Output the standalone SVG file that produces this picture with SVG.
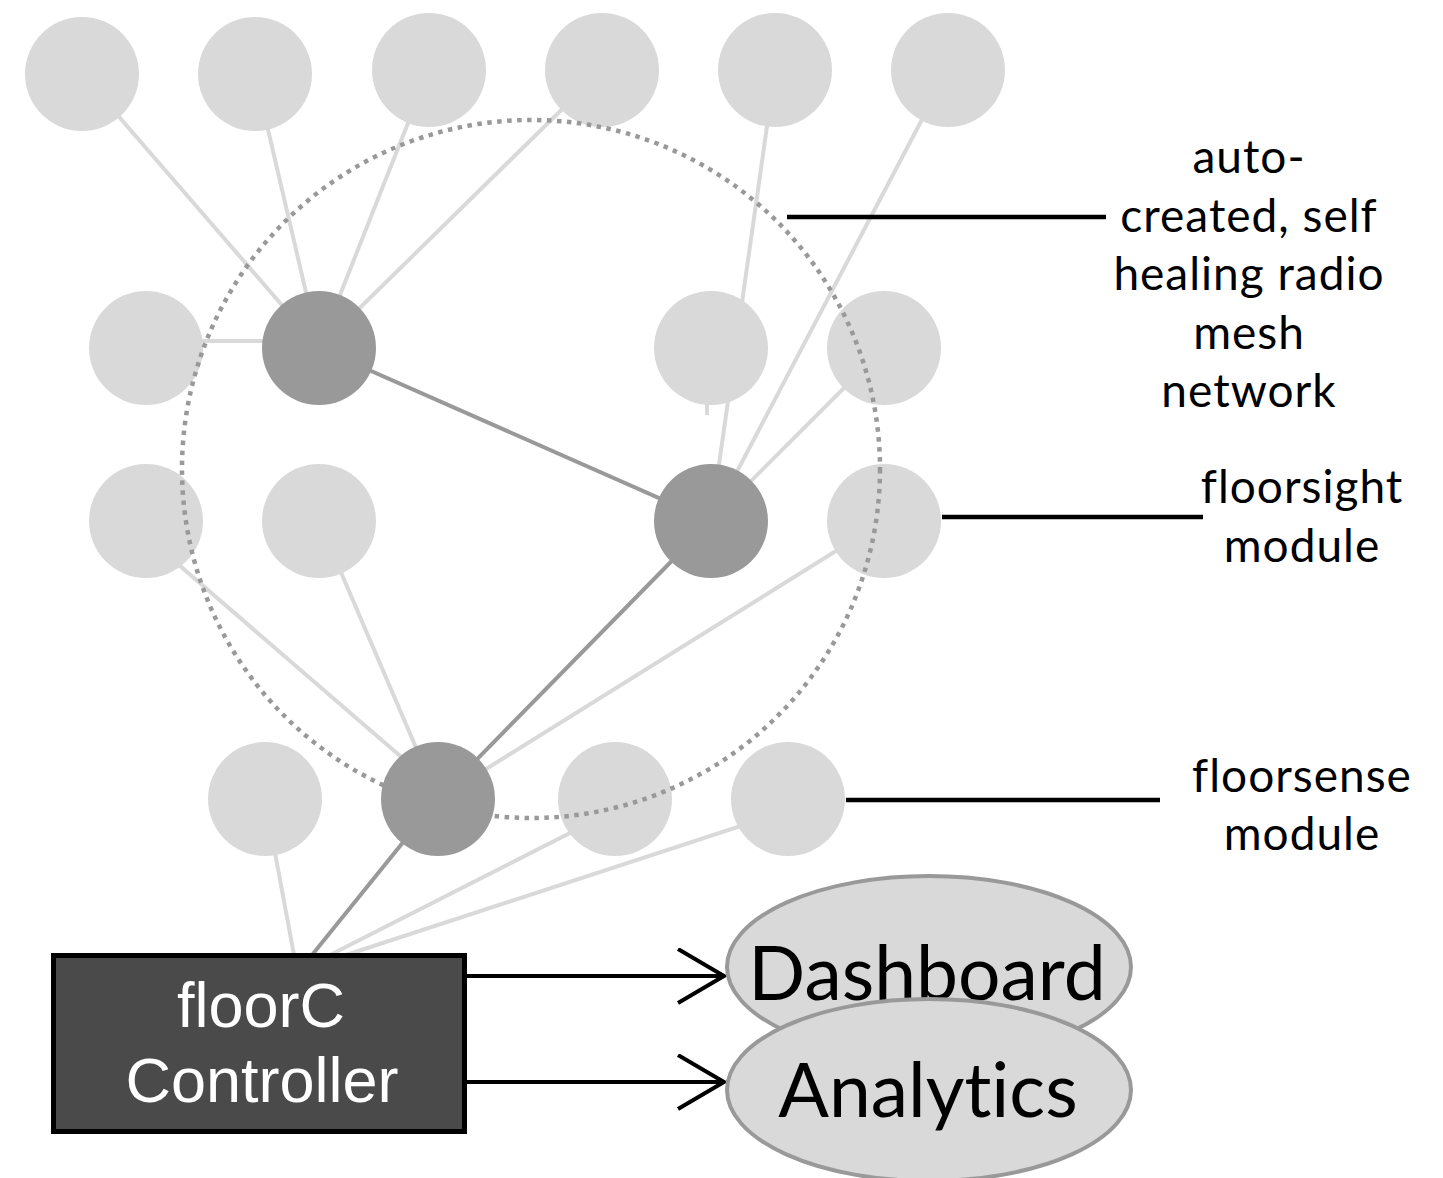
<svg xmlns="http://www.w3.org/2000/svg" width="1443" height="1178" viewBox="0 0 1443 1178">
<style>
.n{fill:#d9d9d9}
.d{fill:#999999}
.ll{stroke:#d9d9d9;stroke-width:4;fill:none}
.dl{stroke:#999999;stroke-width:4;fill:none}
.lead{stroke:#000;stroke-width:4.5;fill:none}
.arr{stroke:#000;stroke-width:4;fill:none}
text{font-variant-ligatures:none}
.lbl{font-family:Lato,"Liberation Sans",sans-serif;font-size:46px;letter-spacing:1px;fill:#000;text-anchor:middle}
.big{font-family:Lato,"Liberation Sans",sans-serif;font-size:75px;fill:#000;text-anchor:middle}
.ctl{font-family:"Liberation Sans",Arial,sans-serif;font-size:63px;fill:#fff;text-anchor:middle}
</style>
<defs>
<marker id="open" markerWidth="60" markerHeight="60" refX="48" refY="28" orient="auto" markerUnits="userSpaceOnUse">
<polyline points="2,1 48,28 2,55" fill="none" stroke="#000" stroke-width="4"/>
</marker>
</defs>
<rect width="1443" height="1178" fill="#fff"/>
<g id="connectors">
<line class="ll" x1="82" y1="74" x2="319" y2="348"/>
<line class="ll" x1="255" y1="74" x2="319" y2="348"/>
<line class="ll" x1="429" y1="70" x2="319" y2="348"/>
<line class="ll" x1="602" y1="70" x2="319" y2="348"/>
<line class="ll" x1="146" y1="341" x2="319" y2="341"/>
<line class="ll" x1="775" y1="70" x2="711" y2="521"/>
<line class="ll" x1="948" y1="70" x2="711" y2="521"/>
<line class="ll" x1="884" y1="348" x2="711" y2="521"/>
<line class="ll" x1="707" y1="400" x2="707" y2="415"/>
<line class="ll" x1="128" y1="521" x2="450" y2="799"/>
<line class="ll" x1="319" y1="521" x2="438" y2="799"/>
<line class="ll" x1="884" y1="521" x2="438" y2="799"/>
<line class="ll" x1="265" y1="799" x2="294" y2="955"/>
<line class="ll" x1="637" y1="799" x2="330" y2="955"/>
<line class="ll" x1="805" y1="805" x2="346" y2="955"/>
<line class="dl" x1="319" y1="348" x2="711" y2="521"/>
<line class="dl" x1="711" y1="521" x2="438" y2="799"/>
<line class="dl" x1="438" y1="799" x2="312" y2="955"/>
<line class="arr" x1="467" y1="976" x2="724" y2="976" marker-end="url(#open)"/>
<line class="arr" x1="467" y1="1082" x2="724" y2="1082" marker-end="url(#open)"/>
<line class="lead" x1="787" y1="217" x2="1106" y2="217"/>
<line class="lead" x1="942" y1="517" x2="1203" y2="517"/>
<line class="lead" x1="846" y1="800" x2="1160" y2="800"/>
</g>
<g id="node-t1"><circle class="n" cx="82" cy="74" r="57"/></g>
<g id="node-t2"><circle class="n" cx="255" cy="74" r="57"/></g>
<g id="node-t3"><circle class="n" cx="429" cy="70" r="57"/></g>
<g id="node-t4"><circle class="n" cx="602" cy="70" r="57"/></g>
<g id="node-t5"><circle class="n" cx="775" cy="70" r="57"/></g>
<g id="node-t6"><circle class="n" cx="948" cy="70" r="57"/></g>
<g id="node-r2a"><circle class="n" cx="146" cy="348" r="57"/></g>
<g id="node-hubA"><circle class="d" cx="319" cy="348" r="57"/></g>
<g id="node-r2c"><circle class="n" cx="711" cy="348" r="57"/></g>
<g id="node-r2d"><circle class="n" cx="884" cy="348" r="57"/></g>
<g id="node-r3a"><circle class="n" cx="146" cy="521" r="57"/></g>
<g id="node-r3b"><circle class="n" cx="319" cy="521" r="57"/></g>
<g id="node-hubB"><circle class="d" cx="711" cy="521" r="57"/></g>
<g id="node-floorsight"><circle class="n" cx="884" cy="521" r="57"/></g>
<g id="node-r4a"><circle class="n" cx="265" cy="799" r="57"/></g>
<g id="node-hubC"><circle class="d" cx="438" cy="799" r="57"/></g>
<g id="node-r4c"><circle class="n" cx="615" cy="799" r="57"/></g>
<g id="node-floorsense"><circle class="n" cx="788" cy="799" r="57"/></g>
<g id="mesh-boundary"><circle cx="531" cy="469" r="349" fill="none" stroke="#999" stroke-width="4.5" stroke-dasharray="4.5 5.5"/></g>
<g id="node-controller">
<rect x="53.5" y="955.5" width="411" height="176" fill="#4a4a4a" stroke="#000" stroke-width="5"/>
<text class="ctl" x="261" y="1027">floorC</text>
<text class="ctl" x="262" y="1102">Controller</text>
</g>
<g id="node-dashboard">
<ellipse cx="929" cy="967" rx="202" ry="91" fill="#d9d9d9" stroke="#999" stroke-width="4"/>
<text class="big" x="927" y="1000">Dashboard</text>
</g>
<g id="node-analytics">
<ellipse cx="929" cy="1090" rx="202" ry="91" fill="#d9d9d9" stroke="#999" stroke-width="4"/>
<text class="big" x="928" y="1117">Analytics</text>
</g>
<g id="label-mesh">
<text class="lbl" x="1249" y="173">auto-</text>
<text class="lbl" x="1249" y="232">created, self</text>
<text class="lbl" x="1249" y="290">healing radio</text>
<text class="lbl" x="1249" y="349">mesh</text>
<text class="lbl" x="1249" y="407">network</text>
</g>
<g id="label-floorsight">
<text class="lbl" x="1302" y="503">floorsight</text>
<text class="lbl" x="1302" y="562">module</text>
</g>
<g id="label-floorsense">
<text class="lbl" x="1302" y="792">floorsense</text>
<text class="lbl" x="1302" y="850">module</text>
</g>
</svg>
